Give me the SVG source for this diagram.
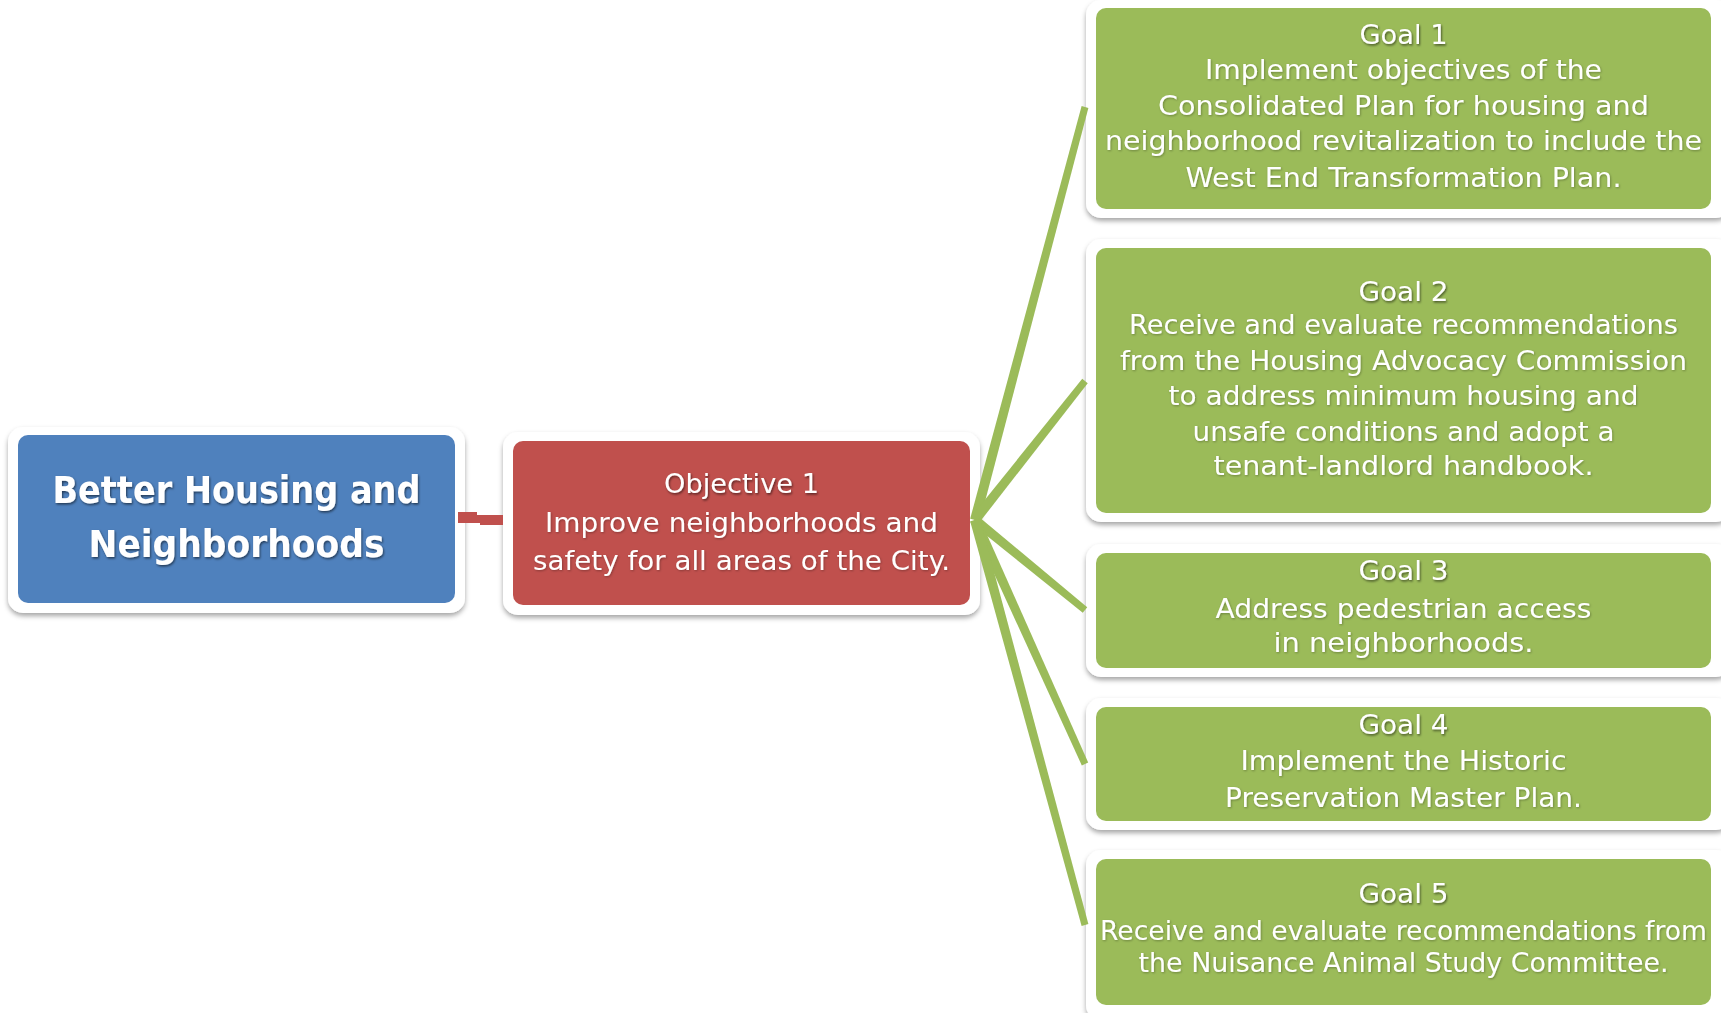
<svg xmlns="http://www.w3.org/2000/svg" width="1721" height="1013" viewBox="0 0 1721 1013">
  <defs>
    <filter id="boxShadow" x="-5%" y="-10%" width="110%" height="125%">
      <feDropShadow dx="0" dy="3" stdDeviation="2.5" flood-color="#000" flood-opacity="0.35"/>
    </filter>
    <filter id="titleShadow" x="-5%" y="-30%" width="110%" height="160%">
      <feDropShadow dx="1" dy="1.5" stdDeviation="1" flood-color="#000" flood-opacity="0.55"/>
    </filter>
    <filter id="textShadow" x="-5%" y="-30%" width="110%" height="160%">
      <feDropShadow dx="0.8" dy="1" stdDeviation="0.8" flood-color="#000" flood-opacity="0.3"/>
    </filter>
  </defs>
  <style>
    .frame { fill: #ffffff; filter: url(#boxShadow); }
    .blue { fill: #4F81BD; }
    .red { fill: #C0504D; }
    .green { fill: #9BBB59; }
    .conn { fill: #9BBB59; }
    .connRed { fill: #C0504D; }
    text { font-family: "DejaVu Sans", Verdana, sans-serif; fill: #ffffff; text-anchor: middle; }
    .t { font-size: 27px; filter: url(#titleShadow); }
    .b { font-size: 27px; filter: url(#textShadow); }
    .main { font-size: 37px; font-weight: bold; filter: url(#titleShadow); }
  </style>

  <rect width="1721" height="1013" fill="#ffffff"/>

  <g id="node-better-housing">
    <rect class="frame" x="8" y="427" width="457" height="186" rx="15"/>
    <rect class="blue" x="18" y="435" width="437" height="168" rx="10"/>
    <text class="main" x="236.5" y="503" textLength="368" lengthAdjust="spacingAndGlyphs">Better Housing and</text>
    <text class="main" x="236.5" y="557" textLength="296" lengthAdjust="spacingAndGlyphs">Neighborhoods</text>
  </g>

  <g id="node-objective-1">
    <rect class="frame" x="503" y="432" width="477" height="183" rx="15"/>
    <rect class="red" x="513" y="441" width="457" height="164" rx="10"/>
    <text class="t" x="741.5" y="493" textLength="155" lengthAdjust="spacingAndGlyphs">Objective 1</text>
    <text class="b" x="741.5" y="532" textLength="393" lengthAdjust="spacingAndGlyphs">Improve neighborhoods and</text>
    <text class="b" x="741.5" y="570" textLength="417" lengthAdjust="spacingAndGlyphs">safety for all areas of the City.</text>
  </g>

  <g id="node-goal-1">
    <rect class="frame" x="1086" y="0" width="645" height="218" rx="15"/>
    <rect class="green" x="1096" y="8" width="615" height="201" rx="10"/>
    <text class="t" x="1403.5" y="44" textLength="88" lengthAdjust="spacingAndGlyphs">Goal 1</text>
    <text class="b" x="1403.5" y="79" textLength="397" lengthAdjust="spacingAndGlyphs">Implement objectives of the</text>
    <text class="b" x="1403.5" y="115" textLength="491" lengthAdjust="spacingAndGlyphs">Consolidated Plan for housing and</text>
    <text class="b" x="1403.5" y="150" textLength="597" lengthAdjust="spacingAndGlyphs">neighborhood revitalization to include the</text>
    <text class="b" x="1403.5" y="187" textLength="436" lengthAdjust="spacingAndGlyphs">West End Transformation Plan.</text>
  </g>

  <g id="node-goal-2">
    <rect class="frame" x="1086" y="239" width="645" height="283" rx="15"/>
    <rect class="green" x="1096" y="248" width="615" height="265" rx="10"/>
    <text class="t" x="1403.5" y="301" textLength="90" lengthAdjust="spacingAndGlyphs">Goal 2</text>
    <text class="b" x="1403.5" y="334" textLength="549" lengthAdjust="spacingAndGlyphs">Receive and evaluate recommendations</text>
    <text class="b" x="1403.5" y="370" textLength="567" lengthAdjust="spacingAndGlyphs">from the Housing Advocacy Commission</text>
    <text class="b" x="1403.5" y="405" textLength="470" lengthAdjust="spacingAndGlyphs">to address minimum housing and</text>
    <text class="b" x="1403.5" y="441" textLength="422" lengthAdjust="spacingAndGlyphs">unsafe conditions and adopt a</text>
    <text class="b" x="1403.5" y="475" textLength="380" lengthAdjust="spacingAndGlyphs">tenant-landlord handbook.</text>
  </g>

  <g id="node-goal-3">
    <rect class="frame" x="1086" y="544" width="645" height="133" rx="15"/>
    <rect class="green" x="1096" y="553" width="615" height="115" rx="10"/>
    <text class="t" x="1403.5" y="580" textLength="90" lengthAdjust="spacingAndGlyphs">Goal 3</text>
    <text class="b" x="1403.5" y="618" textLength="376" lengthAdjust="spacingAndGlyphs">Address pedestrian access</text>
    <text class="b" x="1403.5" y="652" textLength="260" lengthAdjust="spacingAndGlyphs">in neighborhoods.</text>
  </g>

  <g id="node-goal-4">
    <rect class="frame" x="1086" y="698" width="645" height="132" rx="15"/>
    <rect class="green" x="1096" y="707" width="615" height="114" rx="10"/>
    <text class="t" x="1403.5" y="734" textLength="90" lengthAdjust="spacingAndGlyphs">Goal 4</text>
    <text class="b" x="1403.5" y="770" textLength="326" lengthAdjust="spacingAndGlyphs">Implement the Historic</text>
    <text class="b" x="1403.5" y="807" textLength="357" lengthAdjust="spacingAndGlyphs">Preservation Master Plan.</text>
  </g>

  <g id="node-goal-5">
    <rect class="frame" x="1086" y="850" width="645" height="170" rx="15"/>
    <rect class="green" x="1096" y="859" width="615" height="146" rx="10"/>
    <text class="t" x="1403.5" y="903" textLength="90" lengthAdjust="spacingAndGlyphs">Goal 5</text>
    <text class="b" x="1403.5" y="940" textLength="607" lengthAdjust="spacingAndGlyphs">Receive and evaluate recommendations from</text>
    <text class="b" x="1403.5" y="972" textLength="530" lengthAdjust="spacingAndGlyphs">the Nuisance Animal Study Committee.</text>
  </g>

  <g id="connectors">
    <polygon class="connRed" points="458,512 477,512 477,515 503,515 503,525 480,525 480,523 458,523"/>
    <polygon class="conn" points="979.83,521.29 1088.38,107.9 1081.62,106.1 970.17,518.71"/>
    <polygon class="conn" points="978.92,523.1 1087.74,383.17 1082.26,378.83 971.08,516.9"/>
    <polygon class="conn" points="978.17,516.13 1087.22,607.29 1082.78,612.71 971.83,523.87"/>
    <polygon class="conn" points="979.56,517.94 1088.19,762.56 1081.81,765.44 970.44,522.06"/>
    <polygon class="conn" points="979.83,518.69 1088.38,924.08 1081.62,925.92 970.17,521.31"/>
  </g>
</svg>
